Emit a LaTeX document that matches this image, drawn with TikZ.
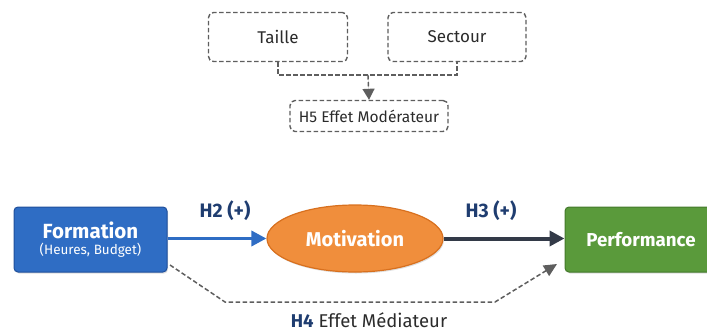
\documentclass[tikz,border=0pt]{standalone}
\usepackage{fontspec}
\setmainfont{Fira Sans}
\usetikzlibrary{arrows.meta,shapes.geometric,shadows}

\definecolor{formblue}{HTML}{2F6DC4}
\definecolor{formedge}{HTML}{1F4F9C}
\definecolor{motivorange}{HTML}{F08E3C}
\definecolor{motivedge}{HTML}{D8701E}
\definecolor{perfgreen}{HTML}{5A9A3B}
\definecolor{perfedge}{HTML}{43792B}
\definecolor{modgray}{HTML}{5E5E5E}
\definecolor{labblue}{HTML}{1F3D70}
\definecolor{darkarrow}{HTML}{333A48}
\definecolor{textgray}{HTML}{2B2B2B}

\tikzset{
  softshadow/.style={drop shadow={opacity=0.25, shadow xshift=1pt, shadow yshift=-1.5pt}},
  modbox/.style={draw=modgray, dashed, dash pattern=on 4.5pt off 2.5pt, line width=1.4pt,
    rounded corners=5pt, fill=white, text=textgray, font=\fontsize{17}{20}\selectfont, inner sep=0pt},
  modline/.style={draw=modgray, dash pattern=on 4.5pt off 2.5pt, line width=1.4pt},
  formbox/.style={draw=formedge, fill=formblue, line width=1pt, rounded corners=4pt,
    text=white, align=center, inner sep=0pt, softshadow},
  motivshape/.style={ellipse, draw=motivedge, fill=motivorange, line width=1.2pt,
    text=white, inner sep=0pt, font=\fontsize{20}{22}\selectfont\bfseries, softshadow},
  perfbox/.style={draw=perfedge, fill=perfgreen, line width=1pt, rounded corners=4pt,
    text=white, inner sep=0pt, font=\fontsize{18.7}{20}\selectfont\bfseries, softshadow},
  hlabel/.style={text=labblue, font=\fontsize{19.5}{22}\selectfont\bfseries},
  tip/.style={-{Triangle[length=15pt,width=15pt]}}
}

\begin{document}
\begin{tikzpicture}[x=1pt, y=-1pt]
	\useasboundingbox (0,0) rectangle (707,335);
	% moderators
	\node[modbox, minimum width=139pt, minimum height=49pt] (taille) at (278,37) {Taille};
	\node[modbox, minimum width=138pt, minimum height=49pt] (sectour) at (457,37) {Sectour};
	\node[modbox, minimum width=158pt, minimum height=31pt, font=\fontsize{15.5}{18}\selectfont] (h5) at (369,116) {H5 Effet Modérateur};
	\coordinate (join) at (368,75);
	\draw[modline] (taille.south) |- (join) -| (sectour.south);
	\draw[modline, -{Triangle[length=11pt,width=12pt]}, fill=modgray] (join) -- (h5.north);
	% main chain
	\node[formbox, minimum width=153pt, minimum height=65pt] (formation) at (90.5,239.5)
		{\fontsize{20.5}{20.5}\selectfont\bfseries Formation\\[3.5pt]\fontsize{13.5}{14}\selectfont (Heures, Budget)};
	\node[motivshape, minimum width=176pt, minimum height=67pt] (motivation) at (355,238.5) {Motivation};
	\node[perfbox, minimum width=152pt, minimum height=65pt] (performance) at (641,239.5) {Performance};
	\draw[formblue, line width=3.5pt, tip] (formation.east |- motivation.west) -- (motivation.west);
	\draw[darkarrow, line width=4pt, tip] (motivation.east) -- (performance.west |- motivation.east);
	\node[hlabel] (h2lab) at (225,211) {H2 (+)};
	\node[hlabel] (h3lab) at (491,211) {H3 (+)};
	% mediation
	\coordinate (h4start) at (170,265);
	\coordinate (h4a) at (225,302);
	\coordinate (h4b) at (495,302);
	\coordinate (h4end) at (557,264);
	\draw[modline, line width=1.5pt, -{Triangle[length=13pt,width=12pt]}] (h4start) -- (h4a) -- (h4b) -- (h4end);
	\node[text=textgray, font=\fontsize{18.5}{20}\selectfont] (h4lab) at (369,320)
		{\textcolor{labblue}{\bfseries H4} Effet Médiateur};
\end{tikzpicture}
\end{document}
